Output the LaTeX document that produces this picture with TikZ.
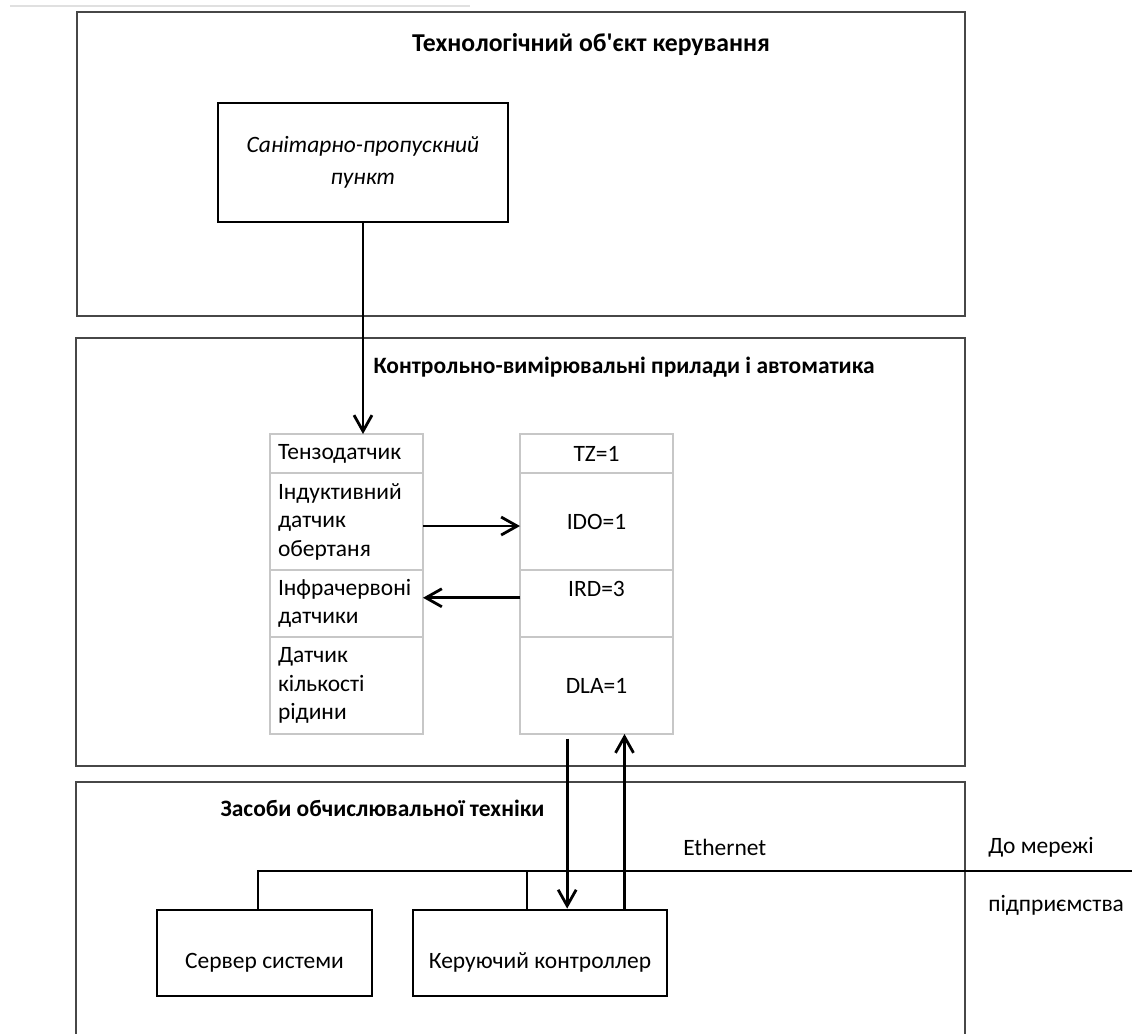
\documentclass[tikz,border=0pt]{standalone}
\usepackage{fontspec}
\setmainfont{Carlito}
\usetikzlibrary{arrows.meta, positioning}

\begin{document}
\begin{tikzpicture}[x=0.75pt, y=-0.75pt,
  zone/.style={draw=black!72, line width=1.5pt},
  title/.style={font=\fontsize{17.6pt}{21.4pt}\selectfont\bfseries, inner sep=0pt},
  txt/.style={font=\fontsize{17.6pt}{21.4pt}\selectfont, inner sep=0pt, anchor=west},
  blk/.style={rectangle, draw=black, line width=2.1pt, align=center,
              font=\fontsize{17.6pt}{21.4pt}\selectfont},
  dev/.style={blk, minimum height=64.5pt, text height=26.5pt, text depth=4pt},
  cell/.style={rectangle, draw=black!22, line width=1.1pt, outer sep=0pt,
               inner xsep=6pt, inner ysep=0pt, text width=102.75pt, align=left,
               font=\fontsize{17.6pt}{21.4pt}\selectfont},
  val/.style={cell, align=center},
  arr/.style={-{Straight Barb[length=12pt, width=13.5pt]}, line width=2.1pt},
  bus/.style={line width=2.1pt}
]
\useasboundingbox (0,0) rectangle (1132,1034);
\clip (0,0) rectangle (1132,1034);

\draw[black!12, line width=1.5pt] (10,6) -- (470,6);

% three levels
\draw[zone] (77,12) rectangle (965,316);
\draw[zone] (76,338) rectangle (965,766);
\draw[zone] (76,782) rectangle (965,1060);

\node[title, font=\fontsize{19.3pt}{22pt}\selectfont\bfseries] (tobj) at (591,44)
  {Технологічний об\textquotesingle єкт керування};
\node[title] (tkvp) at (624,367) {Контрольно-вимірювальні прилади і автоматика};
\node[title] (tzot) at (382.5,808) {Засоби обчислювальної техніки};

\node[blk, minimum width=217.5pt, minimum height=89.25pt,
      font=\fontsize{17.6pt}{24pt}\selectfont\itshape] (spp) at (363,162.5)
  {Санітарно-пропускний\\пункт};

% sensors
\node[cell, minimum height=29.25pt] (tenzo) at (346.5,453.5) {Тензодатчик};
\node[cell, minimum height=72.75pt, below=0pt of tenzo] (indukt)
  {Індуктивний\\датчик\\обертаня};
\node[cell, minimum height=50.25pt, below=0pt of indukt] (infra)
  {Інфрачервоні\\датчики};
\node[cell, minimum height=72.75pt, below=0pt of infra] (dlk)
  {Датчик\\кількості\\рідини};

% values
\node[val, minimum height=29.25pt, right=72.75pt of tenzo] (tz) {TZ=1};
\node[val, minimum height=72.75pt, below=0pt of tz] (ido) {IDO=1};
\node[val, minimum height=50.25pt, below=0pt of ido] (ird) {IRD=3\\\mbox{}};
\node[val, minimum height=72.75pt, below=0pt of ird] (dla) {DLA=1};

% computing
\node[dev, minimum width=161.25pt] (srv) at (264.5,953) {Сервер системи};
\node[dev, minimum width=190.5pt] (ctl) at (540,953) {Керуючий контроллер};

\coordinate (busR) at (1132,871);
\coordinate (tap) at (527,871);
\draw[bus] ([xshift=-4.9pt]srv.north) |- (busR);
\draw[bus] (tap) -- (tap |- ctl.north);

\node[txt] (eth) at (683,847) {Ethernet};
\node[txt] (net1) at (988,847) {До мережі};
\node[txt] (net2) at (988,905) {підприємства};

\draw[arr] (spp.south) -- (spp.south |- tenzo.north);
\draw[arr] ([yshift=-3.4pt]indukt.east) -- ([yshift=-3.4pt]ido.west);
\draw[arr] ([yshift=4.3pt]ird.west) -- ([yshift=4.3pt]infra.east);
\draw[arr, shorten <=3.5pt] ([xshift=-22pt]dla.south)
  -- ([xshift=-22pt]dla.south |- ctl.north);
\draw[arr] ([xshift=21pt]dla.south |- ctl.north) -- ([xshift=21pt]dla.south);
\end{tikzpicture}
\end{document}
